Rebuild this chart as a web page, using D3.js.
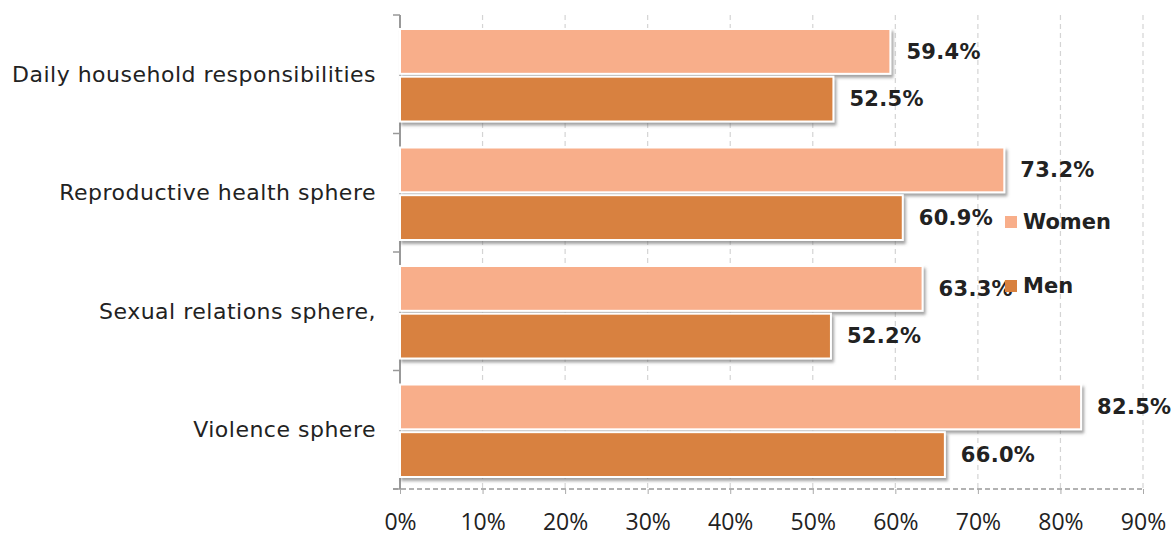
<!DOCTYPE html>
<html>
<head>
<meta charset="utf-8">
<script src="https://cdn.jsdelivr.net/npm/d3@7/dist/d3.min.js"></script>
<style>
  body { margin: 0; background: #fff; }
  .catLabel { font-family: "DejaVu Sans", sans-serif; font-size: 22px; letter-spacing: 0.5px; fill: #222; }
  .valLabel { font-family: "DejaVu Sans", sans-serif; font-size: 21px; font-weight: bold; letter-spacing: 0.3px; fill: #222; }
  .tickLabel { font-family: "Open Sans", sans-serif; font-size: 23px; fill: #222; }
  .legendText { font-family: "DejaVu Sans", sans-serif; font-size: 21px; font-weight: bold; fill: #222; }
</style>
</head>
<body>
<div id="chart"></div>
<script>
var svgWidth = 1174;
var svgHeight = 539;

var categories = ["Daily household responsibilities", "Reproductive health sphere", "Sexual relations sphere,", "Violence sphere"];
var series = ["Women", "Men"];
var women = [59.4, 73.2, 63.3, 82.5];
var men = [52.5, 60.9, 52.2, 66.0];
var xTicks = [0, 10, 20, 30, 40, 50, 60, 70, 80, 90];
var colors = ["#F8AE8A", "#D8813F"];

var margin = { top: 15, right: 31, bottom: 50, left: 400 };
var width = svgWidth - margin.left - margin.right;
var height = svgHeight - margin.top - margin.bottom;

var svg = d3.select("#chart")
  .append("svg")
  .attr("width", svgWidth)
  .attr("height", svgHeight);

// drop shadow for bars
var defs = svg.append("defs");
var filter = defs.append("filter")
  .attr("id", "shadow")
  .attr("x", "-5%").attr("y", "-20%")
  .attr("width", "115%").attr("height", "150%");
filter.append("feDropShadow")
  .attr("dx", 2).attr("dy", 3)
  .attr("stdDeviation", 1.5)
  .attr("flood-color", "#666")
  .attr("flood-opacity", 0.6);

var chartGroup = svg.append("g")
  .attr("transform", `translate(${margin.left}, ${margin.top})`);

var xScale = d3.scaleLinear().domain([0, 90]).range([0, width]);
var yScale = d3.scaleBand().domain(categories).range([0, height]).padding(0);
var inner = d3.scaleBand().domain(series).range([14, yScale.bandwidth() - 12]).paddingInner(0.06);

// gridlines
chartGroup.selectAll(".grid")
  .data(xTicks.slice(1))
  .enter()
  .append("line")
  .attr("x1", d => xScale(d))
  .attr("x2", d => xScale(d))
  .attr("y1", 0)
  .attr("y2", height)
  .attr("stroke", "#d4d4d4")
  .attr("stroke-width", 1.2)
  .attr("stroke-dasharray", "5,4");

// bottom axis
var bottomAxis = d3.axisBottom(xScale)
  .tickValues(xTicks)
  .tickSize(5)
  .tickFormat(d => d + "%");

var xAxis = chartGroup.append("g")
  .attr("transform", `translate(0, ${height})`)
  .call(bottomAxis);
xAxis.select(".domain")
  .attr("d", `M-7,0H${width}`)
  .attr("stroke", "#999")
  .attr("stroke-width", 1.5)
  .attr("stroke-dasharray", "5,3");
xAxis.selectAll(".tick line").attr("stroke", "#aaa");
xAxis.selectAll(".tick text")
  .attr("class", "tickLabel")
  .attr("y", 25)
  .attr("dy", "0.71em");

// left axis
var leftTicks = d3.range(categories.length + 1).map(i => i * yScale.step());
chartGroup.append("line")
  .attr("x1", 0).attr("x2", 0)
  .attr("y1", 0).attr("y2", height)
  .attr("stroke", "#999")
  .attr("stroke-width", 2);
chartGroup.selectAll(".ltick")
  .data(leftTicks)
  .enter()
  .append("line")
  .attr("x1", -7).attr("x2", 0)
  .attr("y1", d => d).attr("y2", d => d)
  .attr("stroke", "#999")
  .attr("stroke-width", 1.5);

// category labels
chartGroup.selectAll(".catLabel")
  .data(categories)
  .enter()
  .append("text")
  .attr("class", "catLabel")
  .attr("x", -24)
  .attr("y", d => yScale(d) + yScale.bandwidth() / 2)
  .attr("dy", "0.35em")
  .attr("text-anchor", "end")
  .text(d => d);

// bars
var rows = categories.map((c, i) => ({ cat: c, vals: [women[i], men[i]] }));

var groups = chartGroup.selectAll(".cat")
  .data(rows)
  .enter()
  .append("g")
  .attr("transform", d => `translate(0, ${yScale(d.cat)})`);

groups.selectAll("rect")
  .data(d => d.vals.map((v, j) => ({ s: series[j], v: v, j: j })))
  .enter()
  .append("rect")
  .attr("x", 0)
  .attr("y", d => inner(d.s))
  .attr("width", d => xScale(d.v))
  .attr("height", inner.bandwidth())
  .attr("fill", d => colors[d.j])
  .attr("stroke", "#fff")
  .attr("stroke-width", 2)
  .attr("filter", "url(#shadow)");

groups.selectAll(".valLabel")
  .data(d => d.vals.map((v, j) => ({ s: series[j], v: v, j: j })))
  .enter()
  .append("text")
  .attr("class", "valLabel")
  .attr("x", d => xScale(d.v) + 16)
  .attr("y", d => inner(d.s) + inner.bandwidth() / 2)
  .attr("dy", "0.35em")
  .text(d => d.v.toFixed(1) + "%");

// legend
var legend = svg.append("g")
  .attr("transform", "translate(1005, 216)");
series.forEach(function(s, i) {
  legend.append("rect")
    .attr("x", 0)
    .attr("y", i * 64)
    .attr("width", 12)
    .attr("height", 12)
    .attr("fill", colors[i]);
  legend.append("text")
    .attr("class", "legendText")
    .attr("x", 18)
    .attr("y", i * 64 + 6)
    .attr("dy", "0.35em")
    .text(s);
});
</script>
</body>
</html>
